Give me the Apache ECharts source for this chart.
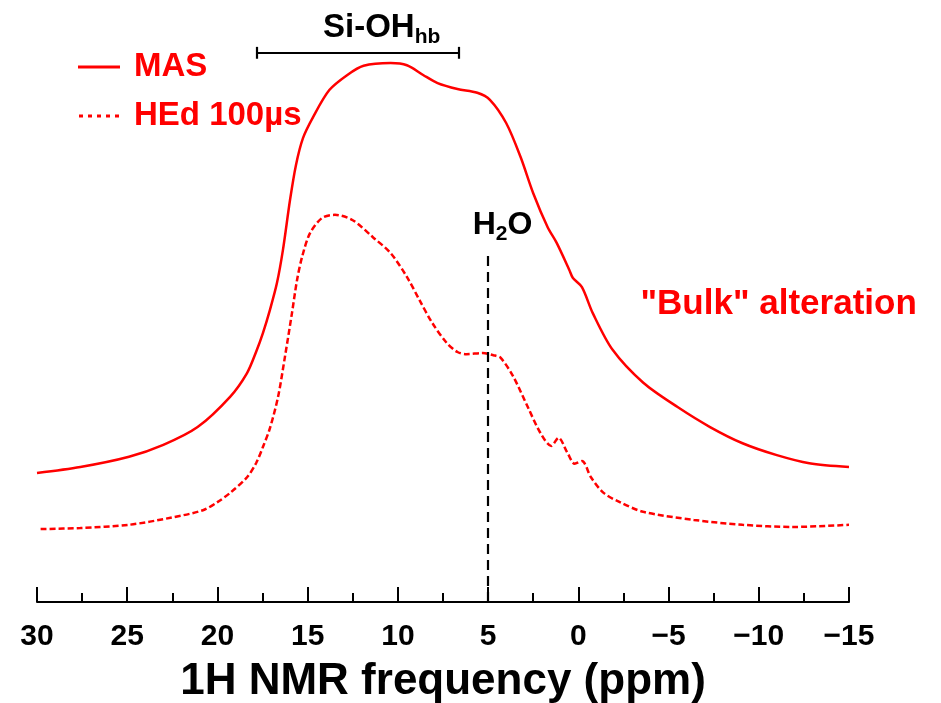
<!DOCTYPE html>
<html>
<head>
<meta charset="utf-8">
<script src="https://cdn.jsdelivr.net/npm/echarts@6/dist/echarts.min.js"></script>
<style>
html,body{margin:0;padding:0;background:#fff;}
#chart{width:941px;height:703px;}
</style>
</head>
<body>
<div id="chart"></div>
<script>
// x axis: 1H chemical shift (ppm), reversed
var xTicks = [30, 25, 20, 15, 10, 5, 0, -5, -10, -15];
var seriesNames = ['MAS', 'HEd 100µs'];
// [ppm, intensity (arb.)]
var masData = [
  [30, 23.9], [27.6, 25.0], [24.9, 26.9], [23.0, 29.1], [21.1, 32.4], [19.3, 38.0],
  [18.36, 42.4], [17.86, 46.3], [17.48, 49.8], [17.09, 54.1], [16.70, 59.1], [16.37, 65.2],
  [15.98, 74.4], [15.65, 80.9], [15.26, 85.9], [14.7, 89.8], [13.8, 94.8], [12.8, 97.6],
  [11.9, 99.3], [10.4, 99.8], [9.5, 99.4], [8.6, 97.6], [7.8, 96.1], [6.7, 95.0],
  [5.6, 94.3], [4.9, 93.0], [4.0, 88.7], [3.2, 82.4], [2.5, 75.7], [1.7, 69.4],
  [1.2, 66.5], [0.5, 61.5], [0.3, 60.0], [-0.2, 58.3], [-0.8, 53.5], [-1.9, 46.7],
  [-3.6, 40.6], [-5.5, 36.1], [-7.3, 32.4], [-9.1, 29.4], [-11.0, 27.2], [-12.8, 25.7],
  [-15.0, 25.0]
];
var hedData = [
  [29.8, 13.5], [27.6, 13.7], [24.9, 14.3], [22.6, 15.6], [20.8, 17.0], [20.0, 18.5],
  [19.3, 20.2], [18.36, 23.1], [17.86, 25.7], [17.48, 28.7], [17.09, 32.2], [16.64, 38.0],
  [16.26, 45.4], [15.87, 53.5], [15.59, 59.6], [15.31, 63.9], [14.87, 68.3], [14.21, 71.1],
  [13.49, 71.7], [12.5, 70.7], [11.4, 67.6], [10.4, 64.6], [9.5, 60.2], [8.8, 55.9],
  [8.1, 51.7], [7.3, 48.0], [6.7, 46.3], [6.2, 45.9], [5.3, 46.1], [4.7, 45.7],
  [4.3, 45.2], [3.6, 41.7], [2.8, 36.1], [2.1, 31.3], [1.5, 28.9], [1.1, 30.4],
  [0.6, 27.6], [0.2, 25.6], [-0.2, 26.1], [-0.7, 23.1], [-1.4, 20.2], [-2.3, 18.5],
  [-3.6, 16.7], [-6.4, 15.2], [-9.1, 14.3], [-11.9, 13.9], [-15.0, 14.3]
];
// annotations
var h2oPpm = 5;
var h2oLineTop = 64.8;
var siohRange = [17.8, 6.6];
var siohLevel = 101.7;
var siohLabelAt = [10.9, 106.3];
var h2oLabelAt = [4.2, 69.8];
var bulkLabelAt = [-11.1, 55.2];

var FONT = '"Liberation Sans", Arial, Helvetica, sans-serif';
var RED = '#ff0000';
var solidIcon = 'path://M0,0H42V3H0Z';
var dotIcon = 'path://M0,0H4V3H0Z M9,0H13V3H9Z M18,0H22V3H18Z M27,0H31V3H27Z M36,0H40V3H36Z';

var chart = echarts.init(document.getElementById('chart'));
chart.setOption({
  animation: false,
  backgroundColor: '#ffffff',
  grid: { left: 37, right: 92, top: 8, bottom: 101, outerBoundsMode: 'none', containLabel: false },
  legend: {
    orient: 'vertical',
    left: 73, top: 44,
    itemWidth: 42, itemHeight: 3, itemGap: 13,
    itemStyle: { color: RED },
    textStyle: { color: RED, fontSize: 33, fontWeight: 'bold', fontFamily: FONT, lineHeight: 36, padding: [0, 0, 0, 9] },
    data: [
      { name: seriesNames[0], icon: solidIcon },
      { name: seriesNames[1], icon: dotIcon }
    ]
  },
  xAxis: {
    type: 'value',
    min: -15, max: 30, interval: 5,
    inverse: true,
    axisLine: { show: true, onZero: false, lineStyle: { color: '#000', width: 2 } },
    axisTick: { show: true, inside: true, length: 15, lineStyle: { color: '#000', width: 2 } },
    minorTick: { show: true, splitNumber: 2, length: 9, lineStyle: { color: '#000', width: 2 } },
    splitLine: { show: false },
    axisLabel: {
      color: '#000', fontSize: 30, fontWeight: 'bold', fontFamily: FONT, margin: 20,
      formatter: function (v) { return String(v).replace('-', '\u2212'); }
    },
    name: '1H NMR frequency (ppm)',
    nameLocation: 'middle',
    nameGap: 58,
    nameTextStyle: { color: '#000', fontSize: 44, fontWeight: 'bold', fontFamily: FONT }
  },
  yAxis: { type: 'value', min: 0, max: 110, show: false, splitLine: { show: false } },
  series: [
    {
      name: seriesNames[0], type: 'line', data: masData, symbol: 'none', smooth: 0.3,
      lineStyle: { color: RED, width: 2.5 }, itemStyle: { color: RED },
      z: 3,
      markLine: {
        silent: true, symbol: 'none', animation: false,
        label: { show: false },
        data: [
          [{ coord: [h2oPpm, 0], lineStyle: { color: '#000', width: 2.2, type: [10, 6] } },
           { coord: [h2oPpm, h2oLineTop] }],
          [{ coord: [siohRange[0], siohLevel], lineStyle: { color: '#000', width: 2.2, type: 'solid' } },
           { coord: [siohRange[1], siohLevel] }],
          [{ coord: [siohRange[0], siohLevel - 1.1], lineStyle: { color: '#000', width: 2.2, type: 'solid' } },
           { coord: [siohRange[0], siohLevel + 1.1] }],
          [{ coord: [siohRange[1], siohLevel - 1.1], lineStyle: { color: '#000', width: 2.2, type: 'solid' } },
           { coord: [siohRange[1], siohLevel + 1.1] }]
        ]
      },
      markPoint: {
        silent: true, symbol: 'circle', symbolSize: 0, animation: false,
        data: [
          { coord: siohLabelAt, label: { show: true, position: 'inside', formatter: '{a|Si-OH}{b|hb}',
            rich: { a: { fontSize: 33, fontWeight: 'bold', color: '#000', fontFamily: FONT, lineHeight: 40 },
                    b: { fontSize: 21, fontWeight: 'bold', color: '#000', fontFamily: FONT, lineHeight: 40, verticalAlign: 'bottom' } } } },
          { coord: h2oLabelAt, label: { show: true, position: 'inside', formatter: '{a|H}{b|2}{a|O}',
            rich: { a: { fontSize: 32, fontWeight: 'bold', color: '#000', fontFamily: FONT, lineHeight: 40 },
                    b: { fontSize: 21, fontWeight: 'bold', color: '#000', fontFamily: FONT, lineHeight: 40, verticalAlign: 'bottom' } } } },
          { coord: bulkLabelAt, label: { show: true, position: 'inside', formatter: '"Bulk" alteration',
            color: RED, fontSize: 35, fontWeight: 'bold', fontFamily: FONT } }
        ]
      }
    },
    {
      name: seriesNames[1], type: 'line', data: hedData, symbol: 'none', smooth: 0.3,
      lineStyle: { color: RED, width: 2.5, type: [6, 3] }, itemStyle: { color: RED },
      z: 3
    }
  ]
});
</script>
</body>
</html>
